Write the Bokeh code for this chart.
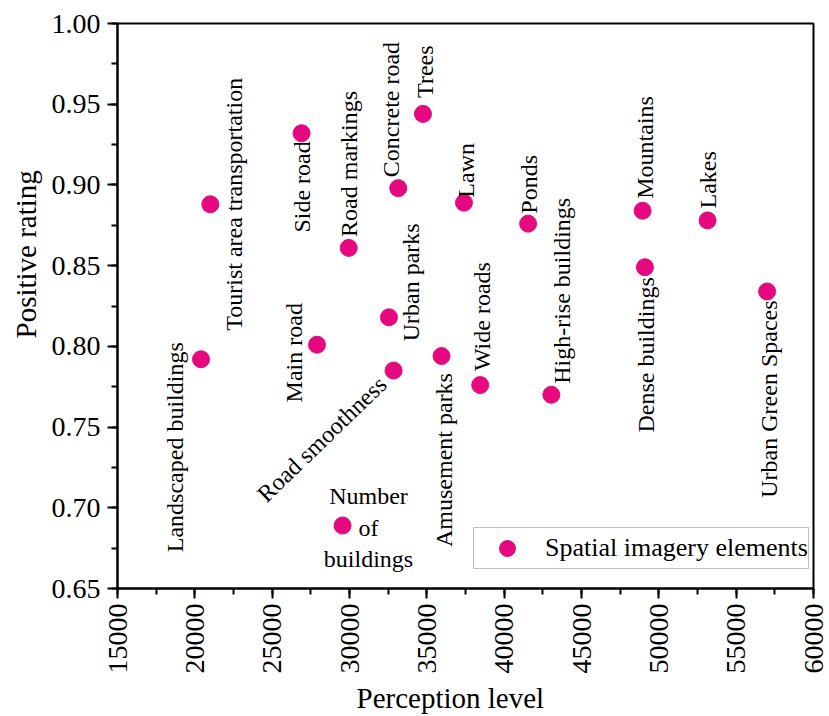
import math

from bokeh.core.properties import field, value
from bokeh.embed import file_html
from bokeh.models import (ColumnDataSource, Legend, LegendItem, PrintfTickFormatter,
                          Range1d, SingleIntervalTicker, Title)
from bokeh.plotting import figure
from bokeh.resources import INLINE

# Spatial imagery elements: perception level vs. positive rating
elements = [
    "Landscaped buildings", "Tourist area transportation", "Side road", "Main road",
    "Road markings", "Number\nof\nbuildings", "Urban parks", "Road smoothness",
    "Concrete road", "Trees", "Amusement parks", "Lawn", "Wide roads", "Ponds",
    "High-rise buildings", "Mountains", "Dense buildings", "Lakes", "Urban Green Spaces",
]
perception = [
    20400, 21000, 26900, 27900,
    29950, 29550, 32550, 32850,
    33150, 34750, 35950, 37400, 38450, 41550,
    43050, 48950, 49100, 53150, 57000,
]
rating = [
    0.792, 0.888, 0.932, 0.801,
    0.861, 0.689, 0.818, 0.785,
    0.898, 0.944, 0.794, 0.889, 0.776, 0.876,
    0.770, 0.884, 0.849, 0.878, 0.834,
]

# Label placement for each element: rotation (degrees), alignment, pixel offsets
label_angle = [90, 90, 90, 90, 90, 0, 90, 44, 90, 90, 90, 90, 90, 90, 90, 90, 90, 90, 90]
label_align = ["right", "center", "right", "center", "left", "center", "left", "right",
               "left", "left", "right", "left", "left", "left", "left", "left", "right",
               "left", "right"]
label_dx = [-26, 24, 0, -23, 0, 26, 22, -11, -7, 2, 2, 2, 2, 1, 11, 2, 1, 0, 2]
label_dy = [-17, 0, 8, 8, -11, 2, 24, 10, -11, -16, 17, -5, -14, -10, -11, -12, 10, -12, 9]

FONT = "Liberation Serif"
PINK = "#E5087E"

p = figure(
    width=829, height=716, output_backend="svg", toolbar_location=None,
    x_range=Range1d(15000, 60000), y_range=Range1d(0.65, 1.0),
    min_border_left=116, min_border_right=16, min_border_top=23, min_border_bottom=128,
    background_fill_color="white", border_fill_color="white",
)
p.xgrid.visible = False
p.ygrid.visible = False
p.outline_line_color = "black"
p.outline_line_width = 2
p.outline_line_alpha = 1.0

src = ColumnDataSource(dict(
    x=perception, y=rating, label=elements,
    angle=[math.radians(a) for a in label_angle],
    align=label_align, dx=label_dx, dy=label_dy,
))

pts = p.scatter("x", "y", source=src, size=17, fill_color=PINK, line_color=PINK)
p.text("x", "y", text="label", source=src, angle="angle",
       text_align=field("align"), x_offset="dx", y_offset="dy",
       text_baseline="middle", text_font=value(FONT), text_font_size="24px",
       text_color="black", text_line_height=1.22)

# Axes
p.xaxis.ticker = SingleIntervalTicker(interval=5000, num_minor_ticks=2)
p.yaxis.ticker = SingleIntervalTicker(interval=0.05, num_minor_ticks=2)
p.xaxis.formatter = PrintfTickFormatter(format="%d")
p.yaxis.formatter = PrintfTickFormatter(format="%.2f")
p.xaxis.major_label_orientation = math.pi / 2

for ax in (p.xaxis, p.yaxis):
    ax.axis_line_color = "black"
    ax.axis_line_width = 2
    ax.major_tick_line_color = "black"
    ax.major_tick_line_width = 2
    ax.minor_tick_line_color = "black"
    ax.minor_tick_line_width = 2
    ax.major_tick_out = 10
    ax.major_tick_in = 0
    ax.minor_tick_out = 6
    ax.minor_tick_in = 0
    ax.major_label_text_font = FONT
    ax.major_label_text_font_size = "28px"
    ax.major_label_text_color = "black"
p.xaxis.major_label_standoff = 5
p.yaxis.major_label_standoff = 7

# Axis titles, placed off-centre along their axes
p.add_layout(Title(text="Perception level", align="left", offset=239, standoff=6,
                   text_font=FONT, text_font_size="29px", text_font_style="normal",
                   text_color="black"), "below")
p.add_layout(Title(text="Positive rating", align="left", offset=250, standoff=14,
                   text_font=FONT, text_font_size="29px", text_font_style="normal",
                   text_color="black"), "left")

legend = Legend(
    items=[LegendItem(label="Spatial imagery elements", renderers=[pts])],
    location=(356, 19), margin=0, padding=0, spacing=0,
    glyph_width=66, glyph_height=40, label_height=36, label_standoff=5,
    label_text_font=FONT, label_text_font_size="26px", label_text_color="black",
    border_line_color="#808080", border_line_width=1,
    background_fill_color="white", background_fill_alpha=1.0,
)
p.add_layout(legend)

open("out.html", "w").write(file_html(p, INLINE))
